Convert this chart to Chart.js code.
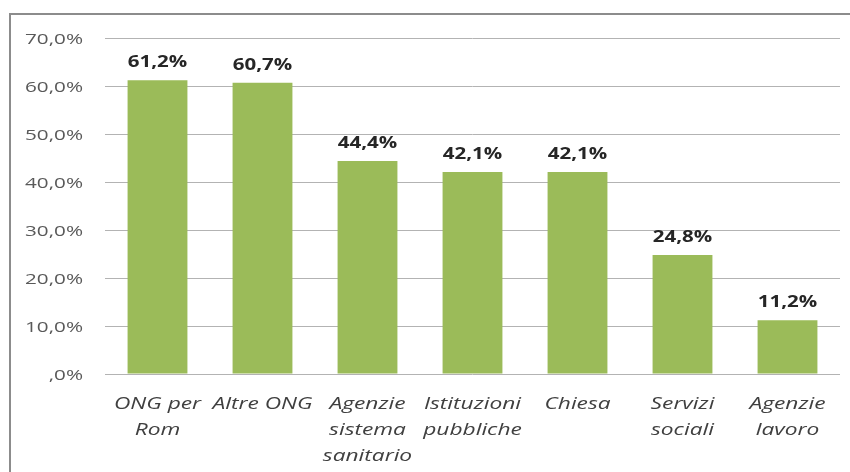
<!DOCTYPE html>
<html>
<head>
<meta charset="utf-8">
<script src="https://cdn.jsdelivr.net/npm/chart.js@4"></script>
<style>
  html, body { margin: 0; padding: 0; background: #fff; overflow: hidden; }
  #frame {
    position: absolute; left: 9px; top: 13px; width: 900px; height: 500px;
    border: 2px solid #8c8c8c; box-sizing: border-box;
  }
  #wrap { position: absolute; left: 0; top: 0; width: 850px; height: 472px; }
</style>
</head>
<body>
<div id="frame"></div>
<div id="wrap"><canvas id="chart" width="850" height="472"></canvas></div>
<script>
// Categories (multi-line labels) and values in percent
const categories = [
    ['ONG per', 'Rom'],
    ['Altre ONG'],
    ['Agenzie', 'sistema', 'sanitario'],
    ['Istituzioni', 'pubbliche'],
    ['Chiesa'],
    ['Servizi', 'sociali'],
    ['Agenzie', 'lavoro']
];
const values = [61.2, 60.7, 44.4, 42.1, 42.1, 24.8, 11.2];

const yMin = 0;
const yMax = 70;
const yStep = 10;

// Italian style number: 61.2 -> "61,2%", 0 -> ",0%"
function fmt(v) {
    if (v === 0) return ',0%';
    return v.toFixed(1).replace('.', ',') + '%';
}

// the source picture is stretched sideways, so text is drawn wider than normal
function wideText(ctx, text, x, y, sx) {
    ctx.save();
    ctx.translate(x, y);
    ctx.scale(sx, 1);
    ctx.fillText(text, 0, 0);
    ctx.restore();
}

// Axis labels and bold value labels, placed from the chart's scales
const labelsPlugin = {
    id: 'labelsPlugin',
    afterDraw(chart) {
        const ctx = chart.ctx;
        const xs = chart.scales.x;
        const ys = chart.scales.y;
        ctx.save();

        // y tick labels
        ctx.font = '15px "Open Sans"';
        ctx.fillStyle = '#595959';
        ctx.textAlign = 'right';
        ctx.textBaseline = 'alphabetic';
        ys.ticks.forEach(t => {
            wideText(ctx, fmt(t.value), 83, ys.getPixelForValue(t.value) + 5.5, 1.38);
        });

        // x category labels
        ctx.font = 'italic 16px "Open Sans"';
        ctx.fillStyle = '#404040';
        ctx.textAlign = 'center';
        categories.forEach((lines, i) => {
            const x = xs.getPixelForTick(i);
            lines.forEach((line, j) => {
                wideText(ctx, line, x, chart.chartArea.bottom + 35 + j * 26, 1.42);
            });
        });

        // values above bars
        ctx.font = 'bold 16px "Open Sans"';
        ctx.fillStyle = '#262626';
        chart.getDatasetMeta(0).data.forEach((bar, i) => {
            wideText(ctx, fmt(values[i]), bar.x, bar.y - 13, 1.28);
        });
        ctx.restore();
    }
};

new Chart(document.getElementById('chart'), {
    type: 'bar',
    data: {
        labels: categories,
        datasets: [{
            data: values,
            backgroundColor: '#9bbb59',
            borderWidth: 0,
            categoryPercentage: 1,
            barPercentage: 0.57
        }]
    },
    options: {
        responsive: false,
        animation: false,
        layout: { padding: { left: 0, right: 10, top: 38, bottom: 0 } },
        plugins: {
            legend: { display: false },
            tooltip: { enabled: false }
        },
        scales: {
            x: {
                grid: { display: false, drawTicks: false },
                border: { display: false },
                ticks: { display: false },
                afterFit(scale) { scale.height = 98; }
            },
            y: {
                min: yMin,
                max: yMax,
                grid: { color: '#b3b3b3', lineWidth: 1, drawTicks: false },
                border: { display: false },
                ticks: { display: false, stepSize: yStep },
                afterFit(scale) { scale.width = 105; }
            }
        }
    },
    plugins: [labelsPlugin]
});
</script>
</body>
</html>
